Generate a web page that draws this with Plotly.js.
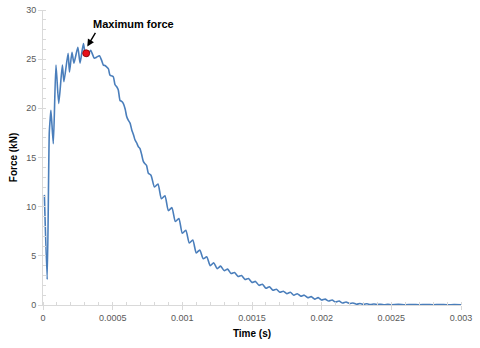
<!DOCTYPE html>
<html>
<head>
<meta charset="utf-8">
<script src="https://cdn.plot.ly/plotly-3.0.1.min.js"></script>
<style>html,body{margin:0;padding:0;background:#fff;}#chart{width:480px;height:348px;}</style>
</head>
<body>
<div id="chart"></div>
<script>
// Time (s)
var time = [
  0.00001, 0.00003, 0.000045, 0.000052, 0.000057, 0.000074, 0.000093, 0.000113, 0.000139, 0.00015,
  0.00018, 0.00019, 0.000208, 0.000222, 0.00025, 0.000266, 0.00029, 0.000305, 0.00032, 0.000342,
  0.000368, 0.000385, 0.000405, 0.00042, 0.000433, 0.000445, 0.000457, 0.00047, 0.00048, 0.000493,
  0.000505, 0.000517, 0.000529, 0.00054, 0.000553, 0.000565, 0.000576, 0.00059, 0.0006, 0.000612,
  0.000625, 0.000637, 0.00065, 0.00066, 0.000672, 0.000684, 0.000696, 0.000708, 0.00072, 0.00073,
  0.000743, 0.000756, 0.000775, 0.0008, 0.000825, 0.00085, 0.000875, 0.0009, 0.000925, 0.00095,
  0.000975, 0.001, 0.001025, 0.00105, 0.001075, 0.0011, 0.001125, 0.00115, 0.001175, 0.0012,
  0.001225, 0.00125, 0.001275, 0.0013, 0.001325, 0.00135, 0.001375, 0.0014, 0.001425, 0.00145,
  0.001475, 0.0015, 0.001525, 0.00155, 0.001575, 0.0016, 0.001625, 0.00165, 0.001675, 0.0017,
  0.001725, 0.00175, 0.001775, 0.0018, 0.001825, 0.00185, 0.001875, 0.0019, 0.001925, 0.00195,
  0.001975, 0.002, 0.002025, 0.00205, 0.002075, 0.0021, 0.002125, 0.00215, 0.002175, 0.0022,
  0.002225, 0.00225, 0.002275, 0.0023, 0.002325, 0.00235, 0.002375, 0.0024, 0.002425, 0.00245,
  0.002475, 0.0025, 0.00255, 0.0026, 0.00265, 0.0027, 0.00275, 0.0028, 0.00285, 0.0029,
  0.00295, 0.003
];
// Force (kN)
var force = [
  11.2, 2.6, 17.5, 19.0, 19.8, 16.4, 24.4, 20.5, 24.4, 22.7,
  25.6, 23.7, 25.7, 24.6, 26.2, 24.6, 26.6, 25.4, 25.3, 25.9,
  25.1, 25.2, 25.35, 24.9, 24.4, 24.35, 24.2, 24.0, 23.4, 23.3,
  23.2, 22.4, 22.2, 21.9, 20.8, 20.7, 20.5, 19.9, 19.2, 18.8,
  18.5, 17.8, 17.3, 16.8, 16.5, 16.1, 15.9, 15.3, 14.6, 14.4,
  14.2, 13.4, 13.2, 12.0, 12.3, 10.8, 11.1, 9.6, 9.9, 8.5,
  8.8, 7.3, 7.6, 6.3, 6.6, 5.3, 5.6, 4.7, 4.9, 4.0,
  4.3, 3.7, 3.95, 3.5, 3.65, 3.2, 3.3, 2.9, 3.0, 2.6,
  2.7, 2.3, 2.4, 2.0, 2.1, 1.7, 1.85, 1.5, 1.6, 1.3,
  1.4, 1.15, 1.3, 1.0, 1.15, 0.9, 1.0, 0.75, 0.85, 0.6,
  0.75, 0.5, 0.6, 0.4, 0.5, 0.3, 0.4, 0.2, 0.3, 0.15,
  0.2, 0.08, 0.15, 0.07, 0.12, 0.05, 0.1, 0.05, 0.08, 0.03,
  0.07, 0.03, 0.06, 0.02, 0.05, 0.02, 0.05, 0.02, 0.05, 0.02,
  0.04, 0.03
];
// Maximum force marker
var maxTime = [0.00031];
var maxForce = [25.6];
var annotationText = "Maximum force";

var xTickVals = [0, 0.0005, 0.001, 0.0015, 0.002, 0.0025, 0.003];
var xTickText = ["0", "0.0005", "0.001", "0.0015", "0.002", "0.0025", "0.003"];
var yTickVals = [0, 5, 10, 15, 20, 25, 30];

var traces = [
  {x: time, y: force, type: 'scatter', mode: 'lines',
   line: {color: '#4a7ebb', width: 1.6, shape: 'spline', smoothing: 0.6}, hoverinfo: 'skip', showlegend: false},
  {x: maxTime, y: maxForce, type: 'scatter', mode: 'markers',
   marker: {color: '#e8101a', size: 7, line: {color: '#8b0000', width: 0.8}}, showlegend: false}
];

var tickFont = {family: 'Liberation Sans, Arial, sans-serif', size: 9, color: '#595959'};
var layout = {
  width: 480, height: 348,
  margin: {l: 43, r: 19, t: 10, b: 43},
  paper_bgcolor: '#ffffff', plot_bgcolor: '#ffffff',
  xaxis: {
    range: [0, 0.003], tickvals: xTickVals, ticktext: xTickText,
    showgrid: false, zeroline: false, showline: true, linecolor: '#d9d9d9', linewidth: 1,
    ticks: 'outside', ticklen: 4, tickcolor: '#d9d9d9',
    minor: {dtick: 0.0001, ticks: 'inside', ticklen: 3, tickcolor: '#d9d9d9', showgrid: false},
    tickfont: tickFont,
    title: {text: '<b>Time (s)</b>', font: {family: 'Liberation Sans, Arial, sans-serif', size: 10, color: '#000'}, standoff: 8}
  },
  yaxis: {
    range: [0, 30], tickvals: yTickVals,
    showgrid: false, zeroline: false, showline: true, linecolor: '#d9d9d9', linewidth: 1,
    ticks: 'outside', ticklen: 4, tickcolor: '#d9d9d9',
    minor: {dtick: 1, ticks: 'inside', ticklen: 3, tickcolor: '#d9d9d9', showgrid: false},
    tickfont: tickFont,
    title: {text: '<b>Force (kN)</b>', font: {family: 'Liberation Sans, Arial, sans-serif', size: 10, color: '#000'}, standoff: 6}
  },
  annotations: [
    {x: 0.000646, y: 28.6, xref: 'x', yref: 'y', text: '<b>' + annotationText + '</b>', showarrow: false,
     font: {family: 'Liberation Sans, Arial, sans-serif', size: 11, color: '#000'}},
    {x: 0.000318, y: 26.3, xref: 'x', yref: 'y', text: '', showarrow: true,
     ax: 9, ay: -15, arrowhead: 2, arrowsize: 1, arrowwidth: 1.4, arrowcolor: '#000'}
  ]
};
Plotly.newPlot('chart', traces, layout, {displayModeBar: false, staticPlot: true});
</script>
</body>
</html>
